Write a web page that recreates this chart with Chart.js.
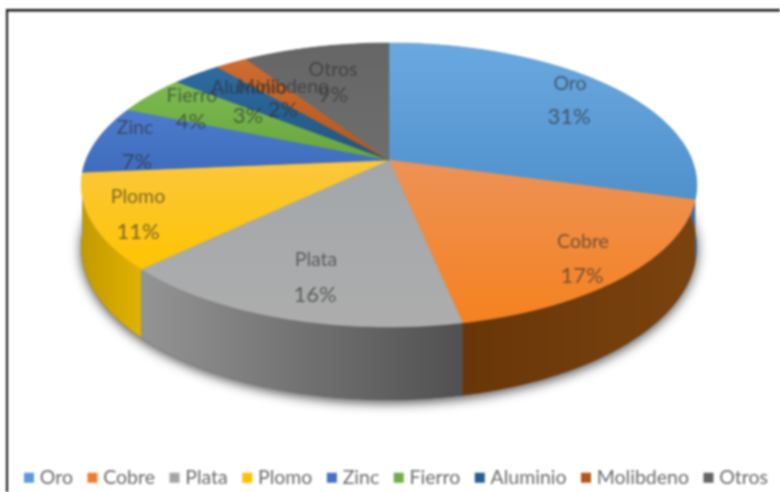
<!DOCTYPE html>
<html><head><meta charset="utf-8">
<style>html,body{margin:0;padding:0;background:#fff}canvas{display:block;filter:blur(0.8px)}</style>
<script src="https://cdn.jsdelivr.net/npm/chart.js@4"></script>
</head><body>
<canvas id="c" width="780" height="492"></canvas>
<script>
const categories = ["Oro","Cobre","Plata","Plomo","Zinc","Fierro","Aluminio","Molibdeno","Otros"];
const shares = [31,17,16,11,7,4,3,2,9];
const legendColors = ["#5b9bd5","#ed7d31","#a5a5a5","#ffc000","#4472c4","#70ad47","#255e91","#b5561c","#636363"];
const topShades = [["#6aa8e0","#5091cc"],["#ee9257","#f5821f"],["#a3a7aa","#adadad"],["#fbc73e","#ffc400"],["#4e7ccd","#3f6cbd"],["#7dbb50","#68a53f"],["#2f6ba1","#20557f"],["#cf6c30","#b5561c"],["#666666","#6e6e6e"]];
const sideShades = [["#3d6f9e","#3d6f9e"],["#693609","#7a430f"],["#949494","#505050"],["#c39a00","#e0b200"],["#2f528f","#2f528f"],["#4f7d31","#4f7d31"],["#1a4368","#1a4368"],["#7a3a10","#7a3a10"],["#444444","#444444"]];
const labelAnchors = [[570,84,569,117],[583,242,582,276],[316,260,315,295],[138,197,138,232],[135,128,137,162],[192,96,191,122],[249,88,248,116],[283,87,283,110],[333,70,333,95]];

// Look of Excel's tilted pie: a disc seen in perspective, with its rim angles slightly eased.
const VIEW = {cx:389, cy:160, a:303, b:137.6, k:0.176, depth:60};
const EASE = [[0,0],[110,-5.7],[173,-4.4],[230,-4.5],[270,-5],[310,-0.5],[360,0]];
function ease(d){
  for(let i=1;i<EASE.length;i++){
    if(d<=EASE[i][0]){const p=EASE[i-1],q=EASE[i];return p[1]+(q[1]-p[1])*(d-p[0])/(q[0]-p[0]);}
  }
  return 0;
}
function rim(angle){
  let d=((angle+Math.PI/2)*180/Math.PI);
  d=Math.max(0,Math.min(360,d));
  const t=(d+ease(d))*Math.PI/180;
  const u=Math.sin(t),v=-Math.cos(t),w=1-VIEW.k*v;
  return {x:VIEW.cx+VIEW.a*u/w,y:VIEW.cy+VIEW.b*v/w,drop:VIEW.depth/w};
}
function rimPoints(s,e){
  const n=Math.max(4,Math.ceil((e-s)*60)),pts=[];
  for(let i=0;i<=n;i++)pts.push(rim(s+(e-s)*i/n));
  return pts;
}
function grad(ctx,x0,y0,x1,y1,pair){
  const g=ctx.createLinearGradient(x0,y0,x1,y1);
  g.addColorStop(0,pair[0]);g.addColorStop(1,pair[1]);return g;
}
const tiltedPie = {
  id:'tiltedPie',
  beforeDraw(chart){
    const c=chart.ctx;
    c.save();
    c.fillStyle='#fff';c.fillRect(0,0,780,492);
    c.fillStyle='#111';
    c.fillRect(6,9,774,2.5);
    c.fillRect(6,9,2,483);
    c.restore();
  },
  beforeDatasetDraw(chart,args){
    const c=chart.ctx, els=args.meta.data;
    const all=rimPoints(-Math.PI/2,Math.PI*1.5);
    c.save();
    // soft shadow under the whole extruded disc
    c.save();
    c.shadowColor='rgba(0,0,0,0.7)';c.shadowBlur=12;c.shadowOffsetY=3;
    c.fillStyle='#555';
    c.beginPath();
    all.forEach((p,i)=>{i?c.lineTo(p.x,p.y+p.drop):c.moveTo(p.x,p.y+p.drop);});
    c.closePath();c.fill();
    c.restore();
    // side walls, back ones first
    for(let i=els.length-1;i>=0;i--){
      const el=els[i];
      const pts=rimPoints(el.startAngle,el.endAngle);
      const xs=pts.map(p=>p.x);
      c.fillStyle=grad(c,Math.min(...xs),0,Math.max(...xs)+0.01,0,sideShades[i]);
      c.beginPath();
      pts.forEach((p,j)=>{j?c.lineTo(p.x,p.y):c.moveTo(p.x,p.y);});
      pts.slice().reverse().forEach(p=>c.lineTo(p.x,p.y+p.drop));
      c.closePath();c.fill();
    }
    // top faces
    els.forEach((el,i)=>{
      const pts=rimPoints(el.startAngle,el.endAngle);
      const ys=pts.map(p=>p.y).concat(VIEW.cy);
      c.fillStyle=grad(c,0,Math.min(...ys),0,Math.max(...ys)+0.01,topShades[i]);
      c.strokeStyle=c.fillStyle;c.lineWidth=0.6;
      c.beginPath();c.moveTo(VIEW.cx,VIEW.cy);
      pts.forEach(p=>c.lineTo(p.x,p.y));
      c.closePath();c.fill();c.stroke();
    });
    c.restore();
    return false;
  },
  afterDatasetsDraw(chart){
    const c=chart.ctx;
    c.save();
    c.textAlign='center';c.textBaseline='middle';
    c.fillStyle='rgba(45,45,45,0.62)';
    categories.forEach((name,i)=>{
      const a=labelAnchors[i];
      c.font='19.5px Lato';
      c.fillText(name,a[0],a[1]);
      c.font='22px Lato';
      c.fillText(shares[i]+'%',a[2],a[3]);
    });
    c.restore();
  }
};
new Chart(document.getElementById('c'),{
  type:'pie',
  data:{labels:categories,datasets:[{data:shares,backgroundColor:legendColors,borderWidth:0}]},
  plugins:[tiltedPie],
  options:{
    responsive:false,animation:false,rotation:0,
    layout:{padding:{left:8,right:-8,top:12,bottom:-5.5}},
    plugins:{
      tooltip:{enabled:false},
      legend:{position:'bottom',labels:{color:'#6a6a6a',font:{family:'Lato',size:19.5},usePointStyle:true,pointStyle:'rect',boxWidth:2,boxHeight:10,padding:18.5}}
    }
  }
});
</script>
</body></html>
